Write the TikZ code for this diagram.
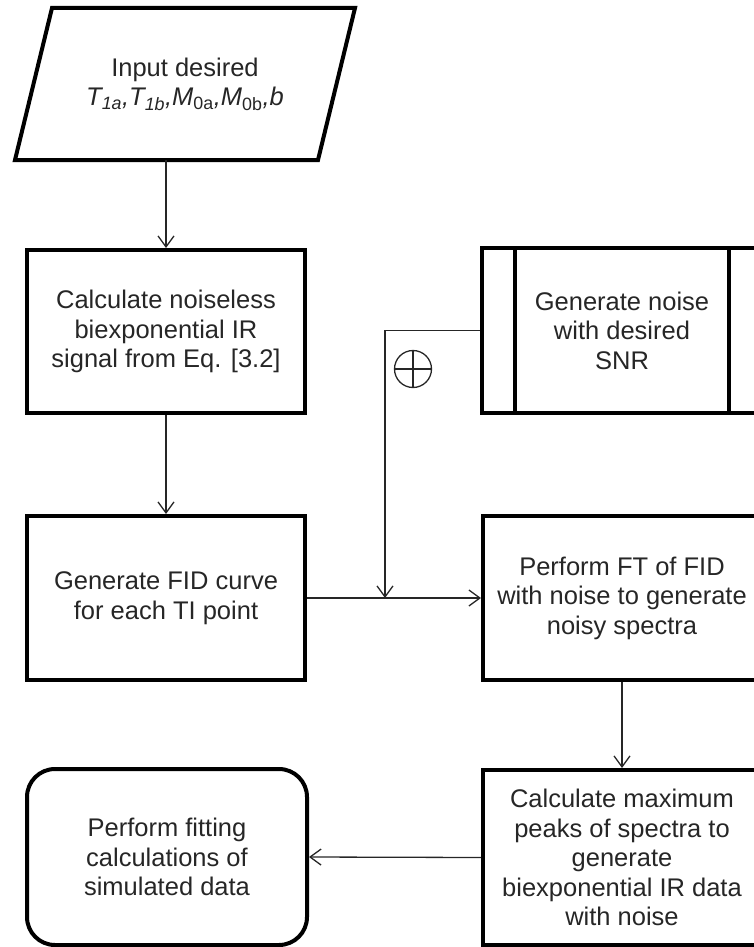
\documentclass[tikz,border=0pt]{standalone}
\usepackage{fontspec}
\setmainfont{Liberation Sans}
\usetikzlibrary{arrows.meta}
\tikzset{
  box/.style={draw=black, line width=4pt, rectangle, inner sep=0pt, align=center,
    font=\fontsize{25.5}{29.5}\selectfont, text=black!85},
  txt/.style={align=center, font=\fontsize{25.5}{29.5}\selectfont, text=black!85, inner sep=0pt},
  conn/.style={draw=black!85, line width=1.3pt},
  arr/.style={conn, -{Straight Barb[length=11pt,width=16pt,line width=1.3pt]}}
}
\begin{document}
\begin{tikzpicture}[x=1pt,y=-1pt]
\useasboundingbox (0,0) rectangle (754,947);
\clip (0,0) rectangle (754,947);
% input parallelogram
\draw[line width=4pt, line join=miter] (52,8) -- (355,8) -- (318,160) -- (15,160) -- cycle;
\node[txt] (in) at (185,84) {Input desired\\{\itshape T\textsubscript{1a},T\textsubscript{1b},M\textsubscript{\upshape 0a},M\textsubscript{\upshape 0b},b}};
\coordinate (inb) at (166,160);
% left column
\node[box, minimum width=278pt, minimum height=163pt] (calc) at (166,331.5)
  {Calculate noiseless\\biexponential IR\\signal from Eq. [3.2]};
\node[box, minimum width=278pt, minimum height=164pt] (fid) at (166,598)
  {Generate FID curve\\for each TI point};
\node[box, rounded corners=28pt, minimum width=280pt, minimum height=176pt] (fit) at (167,857)
  {Perform fitting\\calculations of\\simulated data};
% right column
\node[box, minimum width=280pt, minimum height=165pt] (noise) at (622,330.5)
  {Generate noise\\with desired\\SNR};
\draw[line width=4pt] ([xshift=35pt]noise.north west) -- ([xshift=35pt]noise.south west);
\draw[line width=4pt] ([xshift=-35pt]noise.north east) -- ([xshift=-35pt]noise.south east);
\node[box, minimum width=278pt, minimum height=164pt] (ft) at (622,598)
  {Perform FT of FID\\with noise to generate\\noisy spectra};
\node[box, minimum width=278pt, minimum height=175pt] (peak) at (622,857.5)
  {Calculate maximum\\peaks of spectra to\\generate\\biexponential IR data\\with noise};
% connectors
\draw[arr] (inb) -- (calc.north);
\draw[arr] (calc.south) -- (fid.north);
\draw[arr] (fid.east) -- (ft.west);
\coordinate (corner) at (385,330.5);
\coordinate (join) at (385,598);
\draw[arr] (noise.west) -- (corner) -- (join);
\draw[arr] (ft.south) -- (peak.north);
\draw[arr] (peak.west) -- (fit.east);
% summing symbol
\node[draw=black!85, line width=1.3pt, circle, minimum size=37pt, inner sep=0pt] (sum) at (413,369) {};
\draw[conn] (sum.north) -- (sum.south);
\draw[conn] (sum.west) -- (sum.east);
\end{tikzpicture}
\end{document}
